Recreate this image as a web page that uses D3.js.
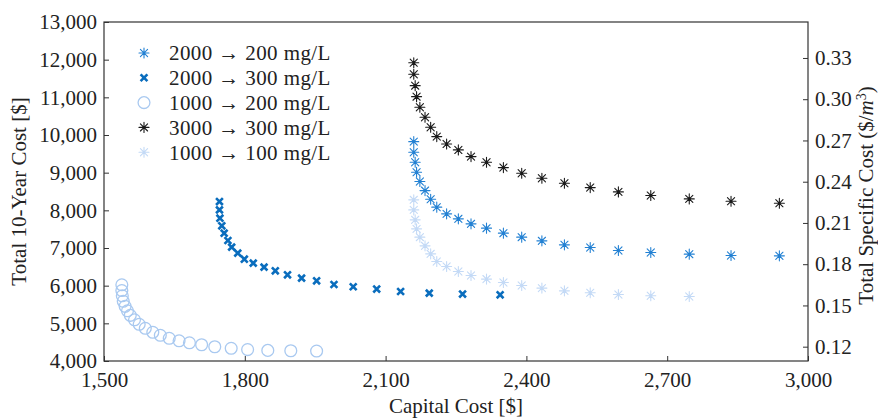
<!DOCTYPE html>
<html lang="en">
<head>
  <meta charset="UTF-8">
  <script src="https://d3js.org/d3.v7.min.js"></script>
  <style>
    body {
      margin: 0;
      padding: 0;
      background-color: #fff;
    }
    text {
      font-family: "Liberation Serif", "DejaVu Serif", serif;
      fill: #222;
    }
  </style>
</head>
<body>
  <div id="chart"></div>
  <script>
    // capital cost shared by the 2000->200, 3000->300 and 1000->100 runs
    const capHigh = [2160, 2160, 2163, 2166, 2173, 2184, 2196, 2209, 2230, 2255, 2282, 2315, 2351, 2390, 2433, 2481, 2536, 2596, 2665, 2747, 2836, 2939];
    const cost2000to200 = [9824, 9543, 9278, 9013, 8764, 8524, 8296, 8084, 7906, 7774, 7641, 7527, 7394, 7288, 7190, 7084, 7012, 6933, 6880, 6837, 6800, 6792];
    const cost3000to300 = [11920, 11612, 11310, 11018, 10737, 10472, 10206, 9957, 9763, 9604, 9426, 9278, 9135, 8986, 8853, 8721, 8604, 8490, 8392, 8304, 8243, 8190];
    const cost1000to100 = [8278, 8012, 7747, 7508, 7288, 7057, 6845, 6641, 6508, 6375, 6269, 6174, 6084, 6004, 5935, 5863, 5810, 5765, 5731, 5712];

    const cap2000to300 = [1746, 1746, 1747, 1751, 1756, 1764, 1772, 1785, 1799, 1818, 1841, 1865, 1891, 1921, 1953, 1990, 2031, 2081, 2132, 2193, 2264, 2344];
    const cost2000to300 = [8233, 8012, 7792, 7588, 7394, 7198, 7023, 6864, 6704, 6598, 6492, 6394, 6288, 6200, 6129, 6031, 5970, 5909, 5846, 5802, 5776, 5757];

    const cap1000to200 = [1538, 1538, 1539, 1541, 1545, 1550, 1556, 1565, 1575, 1588, 1604, 1620, 1639, 1660, 1682, 1708, 1736, 1771, 1806, 1849, 1898, 1953];
    const cost1000to200 = [6023, 5871, 5731, 5585, 5452, 5333, 5213, 5094, 4975, 4868, 4762, 4683, 4603, 4537, 4484, 4431, 4378, 4338, 4303, 4282, 4272, 4264];

    const legendLabels = ["2000 \u2192 200 mg/L", "2000 \u2192 300 mg/L", "1000 \u2192 200 mg/L", "3000 \u2192 300 mg/L", "1000 \u2192 100 mg/L"];
    const xTicks = [1500, 1800, 2100, 2400, 2700, 3000];
    const yTicks = [4000, 5000, 6000, 7000, 8000, 9000, 10000, 11000, 12000, 13000];
    const specTicks = [0.12, 0.15, 0.18, 0.21, 0.24, 0.27, 0.30, 0.33];
    const volume = 36500; // m3 over ten years

    const width = 878, height = 419;
    const margin = {top: 22, right: 70, bottom: 58, left: 104};

    const series = [
      {name: legendLabels[0], cap: capHigh, cost: cost2000to200, marker: "star", color: "#2381d3"},
      {name: legendLabels[1], cap: cap2000to300, cost: cost2000to300, marker: "x", color: "#0a6dbd"},
      {name: legendLabels[2], cap: cap1000to200, cost: cost1000to200, marker: "circle", color: "#a9c9f0"},
      {name: legendLabels[3], cap: capHigh, cost: cost3000to300, marker: "star", color: "#1a1a1a"},
      {name: legendLabels[4], cap: capHigh.slice(0, cost1000to100.length), cost: cost1000to100, marker: "star", color: "#c4daf6"}
    ];

    const svg = d3.select("#chart")
      .append("svg")
      .attr("width", width)
      .attr("height", height);

    const x = d3.scaleLinear().domain([1500, 3000]).range([margin.left, width - margin.right]);
    const y = d3.scaleLinear().domain([4000, 13000]).range([height - margin.bottom, margin.top]);
    const y2 = d3.scaleLinear().domain([4000 / volume, 13000 / volume]).range([height - margin.bottom, margin.top]);

    function markerPath(type) {
      if (type === "star") {
        const r = 5, k = r * 0.72;
        return `M${-r},0L${r},0M0,${-r}L0,${r}M${-k},${-k}L${k},${k}M${-k},${k}L${k},${-k}`;
      }
      if (type === "x") {
        const r = 3.4;
        return `M${-r},${-r}L${r},${r}M${-r},${r}L${r},${-r}`;
      }
      return d3.symbol(d3.symbolCircle, 110)();
    }

    function drawMarker(sel, s) {
      sel.append("path")
        .attr("d", markerPath(s.marker))
        .attr("fill", "none")
        .attr("stroke", s.color)
        .attr("stroke-width", s.marker === "x" ? 2.6 : (s.marker === "circle" ? 1.3 : 1.1))
        .attr("stroke-linecap", s.marker === "x" ? "butt" : "round");
    }

    // axes
    const fontSize = "21px";
    const axisColor = "#333";

    const xAxis = svg.append("g")
      .attr("transform", `translate(0,${height - margin.bottom})`)
      .call(d3.axisBottom(x).tickValues(xTicks).tickFormat(d3.format(",")).tickSizeInner(-5).tickSizeOuter(0).tickPadding(9));

    const yAxis = svg.append("g")
      .attr("transform", `translate(${margin.left},0)`)
      .call(d3.axisLeft(y).tickValues(yTicks).tickFormat(d3.format(",")).tickSizeInner(-5).tickSizeOuter(0).tickPadding(7));

    const y2Axis = svg.append("g")
      .attr("transform", `translate(${width - margin.right},0)`)
      .call(d3.axisRight(y2).tickValues(specTicks).tickFormat(d3.format(".2f")).tickSizeInner(-5).tickSizeOuter(0).tickPadding(7));

    [xAxis, yAxis, y2Axis].forEach(g => {
      g.select(".domain").remove();
      g.selectAll("line").attr("stroke", axisColor);
      g.selectAll("text").style("font-size", fontSize).attr("fill", "#222");
    });
    xAxis.selectAll("text").attr("dy", "0.8em");

    // frame
    svg.append("rect")
      .attr("x", margin.left)
      .attr("y", margin.top)
      .attr("width", width - margin.left - margin.right)
      .attr("height", height - margin.top - margin.bottom)
      .attr("fill", "none")
      .attr("stroke", axisColor)
      .attr("stroke-width", 1.2);

    // points
    series.forEach(s => {
      const pts = s.cost.map((c, i) => ({cap: s.cap[i], cost: c}));
      svg.append("g")
        .selectAll("g")
        .data(pts)
        .enter()
        .append("g")
        .attr("transform", d => `translate(${x(d.cap)},${y(d.cost)})`)
        .each(function() { drawMarker(d3.select(this), s); });
    });

    // legend
    const legend = svg.append("g").attr("transform", "translate(144,53)");
    series.forEach((s, i) => {
      const row = legend.append("g").attr("transform", `translate(0,${i * 24.8})`);
      drawMarker(row, s);
      row.append("text")
        .attr("x", 25)
        .attr("dy", "0.35em")
        .style("font-size", fontSize)
        .style("letter-spacing", "0.4px")
        .text(s.name);
    });

    // axis titles
    const midY = (margin.top + height - margin.bottom) / 2;
    svg.append("text")
      .attr("transform", `translate(${(margin.left + width - margin.right) / 2},${height - 6})`)
      .attr("text-anchor", "middle")
      .style("font-size", fontSize)
      .text("Capital Cost [$]");

    svg.append("text")
      .attr("transform", `translate(26,${midY}) rotate(-90)`)
      .attr("text-anchor", "middle")
      .style("font-size", fontSize)
      .text("Total 10-Year Cost [$]");

    const rightTitle = svg.append("text")
      .attr("transform", `translate(873,${midY + 4}) rotate(-90)`)
      .attr("text-anchor", "middle")
      .style("font-size", fontSize);
    rightTitle.append("tspan").text("Total Specific Cost ($/");
    rightTitle.append("tspan").style("font-style", "italic").text("m");
    rightTitle.append("tspan").attr("dy", -7).style("font-size", "14px").text("3");
    rightTitle.append("tspan").attr("dy", 7).text(")");
  </script>
</body>
</html>
